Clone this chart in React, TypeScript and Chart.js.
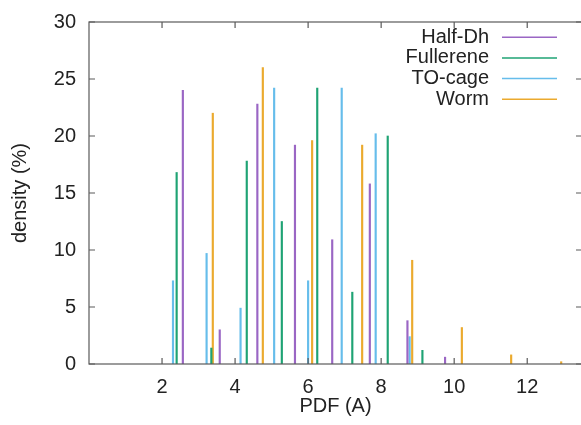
import React, { useEffect, useRef } from "react";
import { Chart, registerables } from "chart.js";

Chart.register(...registerables);

const seriesNames = ["Half-Dh", "Fullerene", "TO-cage", "Worm"];
const seriesColors = ["#9a66c4", "#1fa374", "#66bdeb", "#ebaa2e"];

const halfDhX = [2.57, 3.58, 4.61, 5.64, 6.66, 7.69, 8.72, 9.75];
const halfDhY = [24.0, 3.0, 22.8, 19.2, 10.9, 15.8, 3.8, 0.6];

const fullereneX = [2.4, 3.35, 4.32, 5.28, 6.25, 7.21, 8.18, 9.13];
const fullereneY = [16.8, 1.4, 17.8, 12.5, 24.2, 6.3, 20.0, 1.2];

const toCageX = [2.3, 3.22, 4.15, 5.07, 6.0, 6.92, 7.85, 8.78];
const toCageY = [7.3, 9.7, 4.9, 24.2, 7.3, 24.2, 20.2, 2.4];

const wormX = [3.39, 4.76, 6.11, 7.48, 8.85, 10.21, 11.56, 12.93];
const wormY = [22.0, 26.0, 19.6, 19.2, 9.1, 3.2, 0.8, 0.2];

const xTicks = [2, 4, 6, 8, 10, 12];
const yTicks = [0, 5, 10, 15, 20, 25, 30];

const FONT = "'Liberation Sans', Arial, Helvetica, sans-serif";

export default function App() {
  const ref = useRef<HTMLCanvasElement>(null);

  useEffect(() => {
    const canvas = ref.current;
    if (!canvas) return;

    const seriesX = [halfDhX, fullereneX, toCageX, wormX];
    const seriesY = [halfDhY, fullereneY, toCageY, wormY];

    const framePlugin = {
      id: "frame",
      afterDraw(chart: any) {
        const ctx = chart.ctx;
        const { left, right, top, bottom } = chart.chartArea;
        const xs = chart.scales.x;
        const ys = chart.scales.y;
        ctx.save();
        ctx.strokeStyle = "#5a5a5a";
        ctx.lineWidth = 1.2;
        ctx.strokeRect(left, top, right - left, bottom - top);
        ctx.beginPath();
        xTicks.forEach((v) => {
          const px = xs.getPixelForValue(v);
          ctx.moveTo(px, bottom);
          ctx.lineTo(px, bottom - 6);
          ctx.moveTo(px, top);
          ctx.lineTo(px, top + 6);
        });
        yTicks.forEach((v) => {
          const py = ys.getPixelForValue(v);
          ctx.moveTo(left, py);
          ctx.lineTo(left + 6, py);
          ctx.moveTo(right, py);
          ctx.lineTo(right - 6, py);
        });
        ctx.stroke();

        // legend
        ctx.font = `20px ${FONT}`;
        ctx.textAlign = "right";
        ctx.textBaseline = "middle";
        chart.data.datasets.forEach((ds: any, i: number) => {
          const y = top + 15.2 + i * 20.7;
          ctx.fillStyle = "#222";
          ctx.fillText(ds.label, 489, y);
          ctx.strokeStyle = ds.backgroundColor;
          ctx.lineWidth = 1.5;
          ctx.beginPath();
          ctx.moveTo(502, y);
          ctx.lineTo(557, y);
          ctx.stroke();
        });
        ctx.restore();
      },
    };

    const chart = new Chart(canvas, {
      type: "bar",
      data: {
        datasets: seriesNames.map((name, k) => ({
          label: name,
          data: seriesX[k].map((x, i) => ({ x, y: seriesY[k][i] })),
          backgroundColor: seriesColors[k],
          borderWidth: 0,
          barThickness: 1.5,
          grouped: false,
        })),
      },
      options: {
        responsive: false,
        animation: false,
        layout: { padding: { top: 22, right: 8, left: 0, bottom: 0 } },
        plugins: {
          legend: { display: false },
          tooltip: { enabled: false },
        },
        scales: {
          x: {
            type: "linear",
            min: 0,
            max: 13.5,
            offset: false,
            grid: { display: false, offset: false },
            border: { display: false },
            afterBuildTicks: (s: any) => {
              s.ticks = xTicks.map((v) => ({ value: v }));
            },
            afterFit: (s: any) => {
              s.height = 61;
            },
            ticks: {
              color: "#222",
              padding: 3,
              maxRotation: 0,
              font: { family: FONT, size: 20 },
              callback: (v: any) => String(v),
            },
            title: {
              display: true,
              text: "PDF (A)",
              color: "#222",
              font: { family: FONT, size: 20 },
              padding: { top: 0, bottom: 7 },
            },
          },
          y: {
            type: "linear",
            min: 0,
            max: 30,
            grid: { display: false },
            border: { display: false },
            afterBuildTicks: (s: any) => {
              s.ticks = yTicks.map((v) => ({ value: v }));
            },
            afterFit: (s: any) => {
              s.width = 89;
            },
            ticks: {
              color: "#222",
              padding: 5,
              font: { family: FONT, size: 20 },
              callback: (v: any) => String(v),
            },
            title: {
              display: true,
              text: "density (%)",
              color: "#222",
              font: { family: FONT, size: 20 },
              padding: { top: 8, bottom: 0 },
            },
          },
        },
      },
      plugins: [framePlugin],
    } as any);

    return () => chart.destroy();
  }, []);

  return (
    <div
      style={{
        position: "fixed",
        left: 0,
        top: 0,
        width: 581,
        height: 425,
        overflow: "hidden",
        background: "#fff",
      }}
    >
      <canvas ref={ref} width={590} height={425} style={{ width: 590, height: 425, display: "block" }} />
    </div>
  );
}
